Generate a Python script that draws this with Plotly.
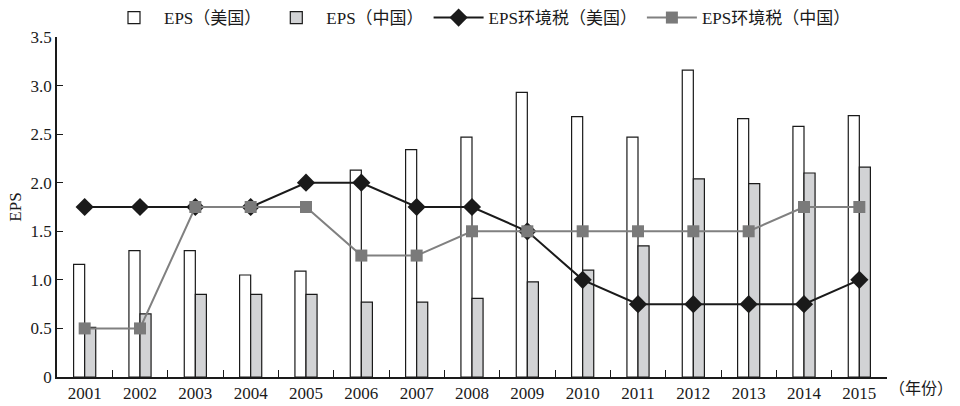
import plotly.graph_objects as go

years = ["2001", "2002", "2003", "2004", "2005", "2006", "2007", "2008",
         "2009", "2010", "2011", "2012", "2013", "2014", "2015"]
eps_us = [1.16, 1.30, 1.30, 1.05, 1.09, 2.13, 2.34, 2.47, 2.93, 2.68, 2.47, 3.16, 2.66, 2.58, 2.69]
eps_cn = [0.51, 0.65, 0.85, 0.85, 0.85, 0.77, 0.77, 0.81, 0.98, 1.10, 1.35, 2.04, 1.99, 2.10, 2.16]
eps_env_us = [1.75, 1.75, 1.75, 1.75, 2.0, 2.0, 1.75, 1.75, 1.5, 1.0, 0.75, 0.75, 0.75, 0.75, 1.0]
eps_env_cn = [0.5, 0.5, 1.75, 1.75, 1.75, 1.25, 1.25, 1.5, 1.5, 1.5, 1.5, 1.5, 1.5, 1.75, 1.75]
y_ticks = [0, 0.5, 1, 1.5, 2, 2.5, 3, 3.5]
y_tick_labels = ["0", "0.5", "1.0", "1.5", "2.0", "2.5", "3.0", "3.5"]

FONT = "Liberation Serif, Times New Roman, Noto Sans CJK SC, serif"

fig = go.Figure()
fig.add_trace(go.Bar(x=years, y=eps_us, name="EPS（美国）",
                     marker=dict(color="white", line=dict(color="#1a1a1a", width=1.2))))
fig.add_trace(go.Bar(x=years, y=eps_cn, name="EPS（中国）",
                     marker=dict(color="#d2d3d5", line=dict(color="#1a1a1a", width=1.2))))
fig.add_trace(go.Scatter(x=years, y=eps_env_us, name="EPS环境税（美国）", mode="lines+markers",
                         line=dict(color="#1a1a1a", width=2),
                         marker=dict(symbol="diamond", size=14, color="#1a1a1a")))
fig.add_trace(go.Scatter(x=years, y=eps_env_cn, name="EPS环境税（中国）", mode="lines+markers",
                         line=dict(color="#808080", width=2),
                         marker=dict(symbol="square", size=12, color="#7a7a7a")))

fig.update_layout(
    width=960, height=406,
    margin=dict(l=57, r=73, t=37, b=29, autoexpand=False),
    paper_bgcolor="white", plot_bgcolor="white",
    font=dict(family=FONT, size=17, color="#1a1a1a"),
    barmode="group", bargap=0.6, bargroupgap=0,
    showlegend=True,
    legend=dict(orientation="h", x=0.5, xref="container", xanchor="center",
                y=1.0, yref="container", yanchor="top",
                font=dict(size=17), itemwidth=50, traceorder="normal"),
    xaxis=dict(type="category", range=[-0.5, len(years) - 0.5],
               showline=True, linecolor="#1a1a1a", linewidth=1.5,
               ticks="inside", tickson="boundaries", ticklen=7, tickcolor="#1a1a1a",
               showgrid=False, tickfont=dict(size=17)),
    yaxis=dict(range=[0, 3.5], tickvals=y_ticks, ticktext=y_tick_labels, showline=True,
               linecolor="#1a1a1a", linewidth=1.5, ticks="inside", ticklen=6,
               tickcolor="#1a1a1a", showgrid=False, zeroline=False,
               tickfont=dict(size=17),
               title=dict(text="EPS", font=dict(size=17), standoff=5)),
)
fig.add_annotation(text="（年份）", xref="paper", yref="paper", x=1.0, y=0,
                   xanchor="left", yanchor="top", yshift=-1, showarrow=False,
                   font=dict(size=16, family=FONT))

fig.write_html("out.html", config={"displayModeBar": False},
               post_script="document.body.style.margin='0';document.body.style.padding='0';")
